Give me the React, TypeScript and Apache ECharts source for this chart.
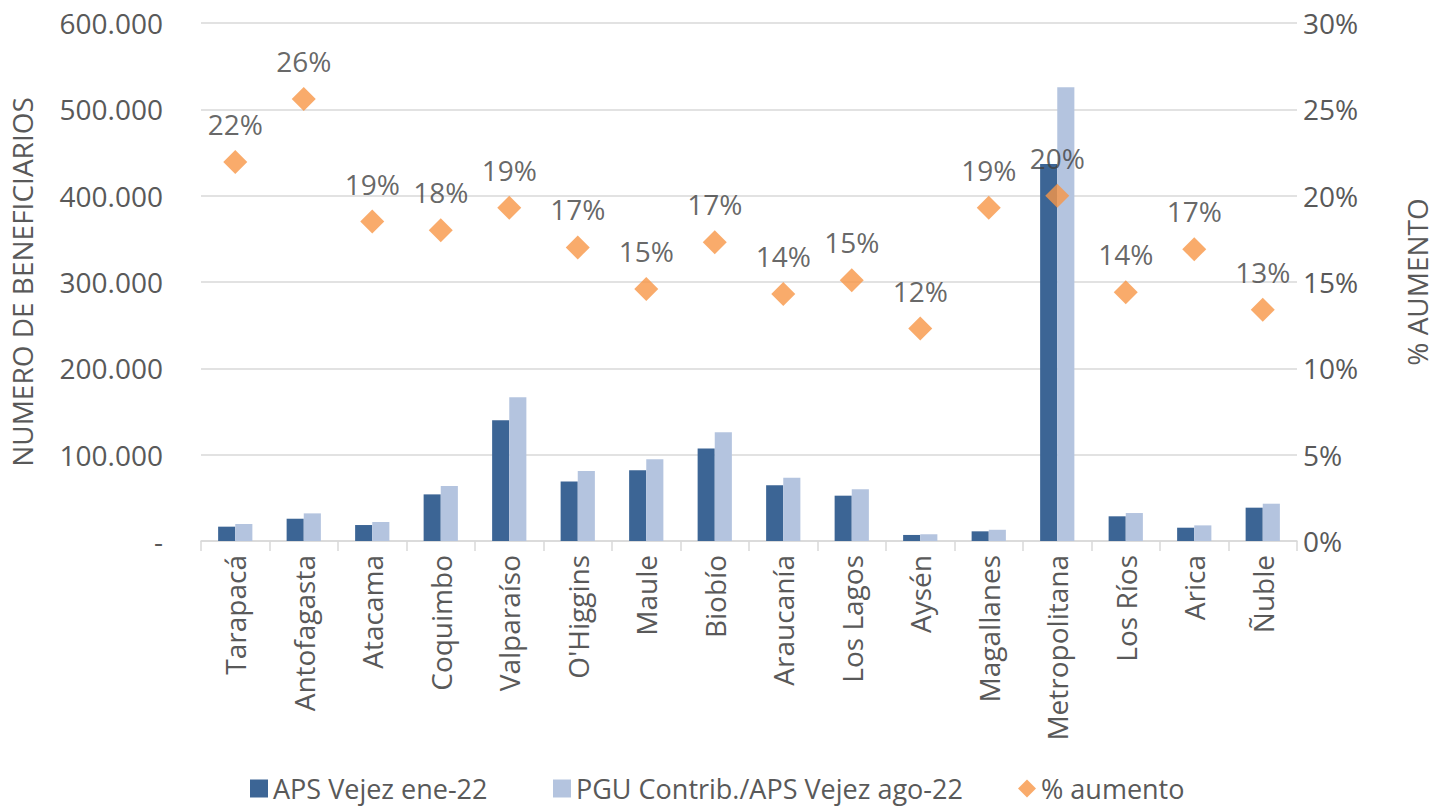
import React, { useEffect, useRef } from "react";
import * as echarts from "echarts";

const categories = ["Tarapacá","Antofagasta","Atacama","Coquimbo","Valparaíso","O'Higgins","Maule","Biobío","Araucanía","Los Lagos","Aysén","Magallanes","Metropolitana","Los Ríos","Arica","Ñuble"];
const apsEne22 = [16600, 25800, 18500, 54000, 139800, 69000, 82000, 107000, 64500, 52500, 7000, 11200, 436700, 28600, 15400, 38600];
const pguAgo22 = [19700, 32000, 22000, 63700, 166400, 81000, 94600, 126000, 73300, 60000, 7800, 13000, 525500, 32400, 18100, 43200];
const pctAumento = [21.95, 25.6, 18.5, 18.0, 19.3, 17.0, 14.6, 17.3, 14.3, 15.1, 12.3, 19.3, 20.0, 14.4, 16.9, 13.4];

const FONT = "Open Sans";
const TXT = "#595959";
const FS = 28;

const legendItem = (name: string, icon: string, left: number) => ({
  left,
  top: 775,
  padding: 0,
  itemWidth: 18,
  itemHeight: 18,
  itemGap: 0,
  textStyle: { fontSize: 27, color: TXT, fontFamily: FONT, lineHeight: 27 },
  data: [{ name, icon }],
});

export default function App() {
  const ref = useRef<HTMLDivElement>(null);
  useEffect(() => {
    const chart = echarts.init(ref.current!, null, { renderer: "svg" });
    chart.setOption({
      animation: false,
      textStyle: { fontFamily: FONT },
      grid: { left: 200, right: 129, top: 23, bottom: 267 },
      legend: [
        legendItem("APS Vejez ene-22", "rect", 250),
        legendItem("PGU Contrib./APS Vejez ago-22", "rect", 553),
        legendItem("% aumento", "diamond", 1018),
      ],
      xAxis: {
        type: "category",
        data: categories,
        axisLine: { lineStyle: { color: "#D9D9D9", width: 1.5 } },
        axisTick: { show: true, length: 10, lineStyle: { color: "#D9D9D9", width: 1.5 } },
        axisLabel: { rotate: 90, fontSize: FS, color: TXT, margin: 14, fontFamily: FONT },
      },
      yAxis: [
        {
          type: "value",
          min: 0,
          max: 600000,
          interval: 100000,
          name: "NUMERO DE BENEFICIARIOS",
          nameLocation: "middle",
          nameGap: 165,
          nameRotate: 90,
          nameTextStyle: { fontSize: FS, color: TXT, fontFamily: FONT },
          axisLine: { show: false },
          axisTick: { show: false },
          splitLine: { lineStyle: { color: "#D9D9D9", width: 1.5 } },
          axisLabel: {
            fontSize: FS,
            color: TXT,
            margin: 38,
            fontFamily: FONT,
            formatter: (v: number) => (v === 0 ? "-" : v.toLocaleString("de-DE")),
          },
        },
        {
          type: "value",
          min: 0,
          max: 30,
          interval: 5,
          name: "% AUMENTO",
          nameLocation: "middle",
          nameGap: 106,
          nameRotate: 90,
          nameTextStyle: { fontSize: FS, color: TXT, fontFamily: FONT },
          axisLine: { show: false },
          axisTick: { show: false },
          splitLine: { show: false },
          axisLabel: { fontSize: FS, color: TXT, margin: 6, fontFamily: FONT, formatter: "{value}%" },
        },
      ],
      series: [
        {
          name: "APS Vejez ene-22",
          type: "bar",
          data: apsEne22,
          barGap: "0%",
          barCategoryGap: "50%",
          itemStyle: { color: "#3C6595" },
          z: 2,
        },
        {
          name: "PGU Contrib./APS Vejez ago-22",
          type: "bar",
          data: pguAgo22,
          itemStyle: { color: "#B4C4DF" },
          z: 2,
        },
        {
          name: "% aumento",
          type: "scatter",
          yAxisIndex: 1,
          data: pctAumento,
          symbol: "diamond",
          symbolSize: 24,
          itemStyle: { color: "#F79646" },
          z: 5,
          label: {
            show: true,
            position: "top",
            distance: 12,
            fontSize: FS,
            color: "#404040",
            fontFamily: FONT,
            formatter: (p: any) => Math.round(p.value) + "%",
          },
        },
      ],
    });
    return () => chart.dispose();
  }, []);
  return <div ref={ref} style={{ width: 1439, height: 808, position: "absolute", left: 0, top: 0 }} />;
}
